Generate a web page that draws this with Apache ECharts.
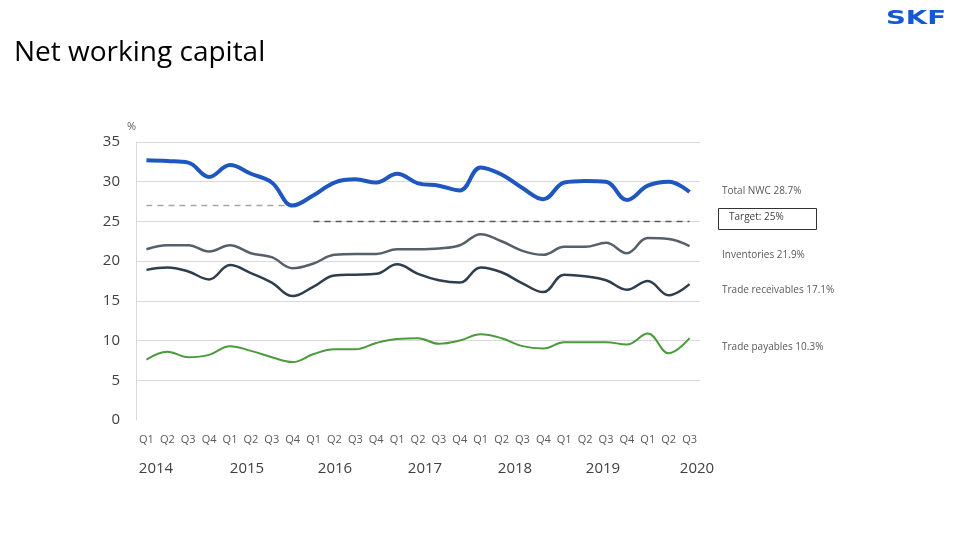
<!DOCTYPE html>
<html>
<head>
<meta charset="utf-8">
<script src="https://cdn.jsdelivr.net/npm/echarts@6/dist/echarts.min.js"></script>
<style>
html,body{margin:0;padding:0;background:#fff;}
#c{width:960px;height:540px;}
</style>
</head>
<body>
<div id="c"></div>
<script>
var quarters = ['Q1','Q2','Q3','Q4','Q1','Q2','Q3','Q4','Q1','Q2','Q3','Q4','Q1','Q2','Q3','Q4','Q1','Q2','Q3','Q4','Q1','Q2','Q3','Q4','Q1','Q2','Q3'];
var years = ['2014','2015','2016','2017','2018','2019','2020'];
var totalNWC = [32.7,32.6,32.4,30.6,32.1,31.0,29.9,27.0,28.3,29.9,30.3,29.9,31.0,29.8,29.5,28.9,31.8,30.9,29.2,27.8,29.9,30.1,30.0,27.7,29.5,30.0,28.7];
var inventories = [21.5,22.0,22.0,21.2,22.0,21.0,20.5,19.1,19.7,20.8,20.9,20.9,21.5,21.5,21.6,22.0,23.4,22.5,21.3,20.8,21.8,21.8,22.3,21.0,22.9,22.8,21.9];
var receivables = [18.9,19.2,18.7,17.7,19.5,18.5,17.3,15.6,16.8,18.2,18.3,18.4,19.6,18.4,17.6,17.3,19.2,18.6,17.2,16.1,18.3,18.1,17.6,16.4,17.5,15.7,17.1];
var payables = [7.6,8.6,7.9,8.2,9.3,8.7,7.9,7.3,8.3,8.9,8.9,9.7,10.2,10.3,9.6,10.0,10.8,10.3,9.3,9.0,9.8,9.8,9.8,9.5,10.9,8.4,10.3];
var targetOld = [27,27,27,27,27,27,27,27,null,null,null,null,null,null,null,null,null,null,null,null,null,null,null,null,null,null,null];
var targetNew = [null,null,null,null,null,null,null,null,25,25,25,25,25,25,25,25,25,25,25,25,25,25,25,25,25,25,25];
var legendTexts = ['Total NWC 28.7%','Target: 25%','Inventories 21.9%','Trade receivables 17.1%','Trade payables 10.3%'];

var FONT = '"Open Sans", sans-serif';
var chart = echarts.init(document.getElementById('c'), null, {renderer:'canvas'});

function line(data, color, width, z, dashed){
  return {
    type:'line', data:data, smooth:0.4, symbol:'none', z:z,
    lineStyle:{color:color, width:width, type: dashed ? [6,5] : 'solid'},
    connectNulls:false, animation:false
  };
}

var yearX = [156,247,335,425,515,603,697];
var graphics = [
  {type:'text', left:14, top:39, style:{text:'Net working capital', font:'28px '+FONT, fill:'#000'}},
  {type:'text', x:886, y:10, scaleX:1.45, style:{text:'SKF', font:'900 19px "DejaVu Sans", sans-serif', fill:'#1458d2'}},
  {type:'text', left:722, top:186, style:{text:legendTexts[0], font:'10px '+FONT, fill:'#595959'}},
  {type:'rect', shape:{x:718.5, y:208.5, width:98, height:21}, style:{fill:'#fff', stroke:'#333', lineWidth:1}},
  {type:'text', left:729, top:212, style:{text:legendTexts[1], font:'10px '+FONT, fill:'#404040'}},
  {type:'text', left:722, top:250, style:{text:legendTexts[2], font:'10px '+FONT, fill:'#595959'}},
  {type:'text', left:722, top:285, style:{text:legendTexts[3], font:'10px '+FONT, fill:'#595959'}},
  {type:'text', left:722, top:342, style:{text:legendTexts[4], font:'10px '+FONT, fill:'#595959'}}
];
years.forEach(function(y,i){
  graphics.push({type:'text', x:yearX[i], y:469, style:{text:y, font:'15px '+FONT, fill:'#404040', align:'center', verticalAlign:'middle'}});
});

chart.setOption({
  animation:false,
  backgroundColor:'#fff',
  grid:{left:136, right:260, top:142, bottom:120},
  xAxis:{
    type:'category', data:quarters, boundaryGap:true,
    axisLine:{show:false}, axisTick:{show:false},
    axisLabel:{interval:0, margin:14, fontSize:11, color:'#595959', fontFamily:FONT}
  },
  yAxis:{
    type:'value', min:0, max:35, interval:5,
    name:'%', nameLocation:'end', nameGap:10,
    nameTextStyle:{fontSize:11, color:'#595959', fontFamily:FONT, align:'right', padding:[0,0,0,0]},
    axisLine:{show:true, lineStyle:{color:'#d9d9d9'}},
    axisTick:{show:false},
    axisLabel:{fontSize:15, color:'#404040', fontFamily:FONT, margin:16},
    splitLine:{show:true, lineStyle:{color:['rgba(0,0,0,0)','#d9d9d9','#d9d9d9','#d9d9d9','#d9d9d9','#d9d9d9','#d9d9d9','#d9d9d9'], width:1}}
  },
  graphic:graphics,
  series:[
    line(targetOld, '#a6a6a6', 1.5, 2, true),
    line(targetNew, '#595959', 1.5, 2, true),
    line(payables, '#4b9a3b', 2, 3),
    line(receivables, '#2f3e4f', 2.5, 4),
    line(inventories, '#56606b', 2.5, 4),
    line(totalNWC, '#1e58bf', 4, 5)
  ]
});
</script>
</body>
</html>
